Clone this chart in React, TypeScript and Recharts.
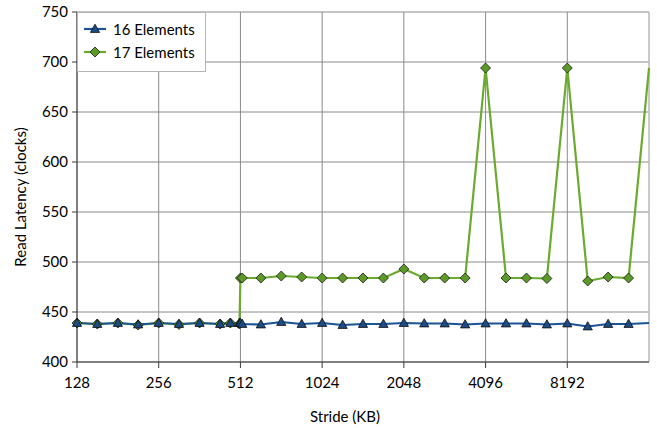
import React from 'react';
import { LineChart, Line, XAxis, YAxis, CartesianGrid, Legend, ReferenceLine, Label } from 'recharts';

// Stride sizes in KB (quarter-octave steps, plus extra samples around 512)
const strides = [
  128, 152, 181, 215, 256, 304, 362, 431, 470, 508, 512, 520,
  609, 724, 861, 1024, 1218, 1448, 1722, 2048, 2435, 2896, 3444,
  4096, 4871, 5793, 6889, 8192, 9742, 11585, 13777, 16384,
];

// Read latency in clocks for each configuration
const latency16 = [
  439, 438, 439, 437.5, 439, 438, 439, 438, 439, 439, 439, 438,
  437.5, 440, 438, 439, 437, 438, 438, 439, 438.5, 438.5, 437.5,
  438.5, 438.5, 438.5, 437.5, 438.5, 435.5, 438, 438, 439,
];
const latency17 = [
  439, 438, 439, 437, 439, 437.5, 439, 438, 439, 438, 484, 484,
  484, 486, 485, 484, 484, 484, 484, 493, 484, 484, 484,
  694, 484, 484, 483.5, 694, 481, 485, 484, 694,
];

const xTicks = [128, 256, 512, 1024, 2048, 4096, 8192];
const yTicks = [400, 450, 500, 550, 600, 650, 700, 750];

const seriesNames = ['16 Elements', '17 Elements'];

const data = strides.map((stride, i) => ({
  stride,
  e16: latency16[i],
  e17: latency17[i],
}));

const FONT = 'Lato, "Open Sans", sans-serif';
const BLUE_LINE = '#1a5396';
const BLUE_FILL = '#1c4c86';
const GREEN_LINE = '#6aab2e';
const GREEN_FILL = '#5c9a28';
const lastIndex = strides.length - 1;

const TriangleDot = (props: any) => {
  const { cx, cy, index } = props;
  if (cx == null || cy == null || index === lastIndex) return <g key={`t${index}`} />;
  return (
    <polygon
      key={`t${index}`}
      points={`${cx},${cy - 4.8} ${cx + 4.6},${cy + 3.4} ${cx - 4.6},${cy + 3.4}`}
      fill={BLUE_FILL}
      stroke="#0d0d0d"
      strokeWidth={0.8}
    />
  );
};

const DiamondDot = (props: any) => {
  const { cx, cy, index } = props;
  if (cx == null || cy == null || index === lastIndex) return <g key={`d${index}`} />;
  return (
    <polygon
      key={`d${index}`}
      points={`${cx},${cy - 5} ${cx + 5},${cy} ${cx},${cy + 5} ${cx - 5},${cy}`}
      fill={GREEN_FILL}
      stroke="#1a1a1a"
      strokeWidth={0.8}
    />
  );
};

const LegendBox = () => (
  <div
    style={{
      position: 'relative',
      width: 129,
      height: 60,
      background: '#fff',
      border: '1px solid #b5b5b5',
      boxSizing: 'border-box',
      fontFamily: FONT,
      fontSize: 15,
      color: '#000',
    }}
  >
    {seriesNames.map((name, i) => (
      <div
        key={name}
        style={{ position: 'absolute', left: 6, top: 6 + i * 23, height: 20, display: 'flex', alignItems: 'center' }}
      >
        <svg width={24} height={14} style={{ marginRight: 5 }}>
          <line x1={0} y1={7} x2={22} y2={7} stroke={i === 0 ? BLUE_LINE : GREEN_LINE} strokeWidth={2.2} />
          {i === 0 ? (
            <polygon points="11,2.2 15.6,10.4 6.4,10.4" fill={BLUE_FILL} stroke="#0d0d0d" strokeWidth={0.8} />
          ) : (
            <polygon points="11,2 16,7 11,12 6,7" fill={GREEN_FILL} stroke="#1a1a1a" strokeWidth={0.8} />
          )}
        </svg>
        <span>{name}</span>
      </div>
    ))}
  </div>
);

export default function App() {
  return (
    <div style={{ position: 'absolute', left: 0, top: 0, background: '#fff' }}>
      <LineChart width={657} height={428} data={data} margin={{ top: 12, right: 8, left: 0, bottom: 0 }}>
        <CartesianGrid stroke="#8a8a8a" strokeWidth={1} />
        <ReferenceLine x={16384} stroke="#cfcfcf" strokeWidth={1} />
        <XAxis
          dataKey="stride"
          type="number"
          scale="log"
          domain={[128, 16384]}
          ticks={xTicks}
          interval={0}
          height={66}
          tickSize={6}
          tickMargin={9}
          axisLine={{ stroke: '#3a3a3a' }}
          tickLine={{ stroke: '#3a3a3a' }}
          tick={{ fill: '#000', fontFamily: FONT, fontSize: 15 }}
        >
          <Label
            content={() => (
              <text x={345} y={416} textAnchor="middle" dominantBaseline="central" fontFamily={FONT} fontSize={15} fill="#000">
                Stride (KB)
              </text>
            )}
          />
        </XAxis>
        <YAxis
          type="number"
          domain={[400, 750]}
          ticks={yTicks}
          interval={0}
          width={77}
          tickSize={5}
          tickMargin={4}
          axisLine={{ stroke: '#3a3a3a' }}
          tickLine={{ stroke: '#3a3a3a' }}
          tick={{ fill: '#000', fontFamily: FONT, fontSize: 15 }}
        >
          <Label
            content={() => (
              <text
                x={20}
                y={197}
                transform="rotate(-90 20 197)"
                textAnchor="middle"
                dominantBaseline="central"
                fontFamily={FONT}
                fontSize={15}
                fill="#000"
              >
                Read Latency (clocks)
              </text>
            )}
          />
        </YAxis>
        <Line
          type="linear"
          dataKey="e17"
          name={seriesNames[1]}
          stroke={GREEN_LINE}
          strokeWidth={2.2}
          dot={DiamondDot}
          activeDot={false}
          isAnimationActive={false}
        />
        <Line
          type="linear"
          dataKey="e16"
          name={seriesNames[0]}
          stroke={BLUE_LINE}
          strokeWidth={2.2}
          dot={TriangleDot}
          activeDot={false}
          isAnimationActive={false}
        />
        <Legend
          layout="horizontal"
          verticalAlign="middle"
          align="center"
          wrapperStyle={{ left: 77, top: 12, width: 129, height: 60 }}
          content={<LegendBox />}
        />
      </LineChart>
    </div>
  );
}
